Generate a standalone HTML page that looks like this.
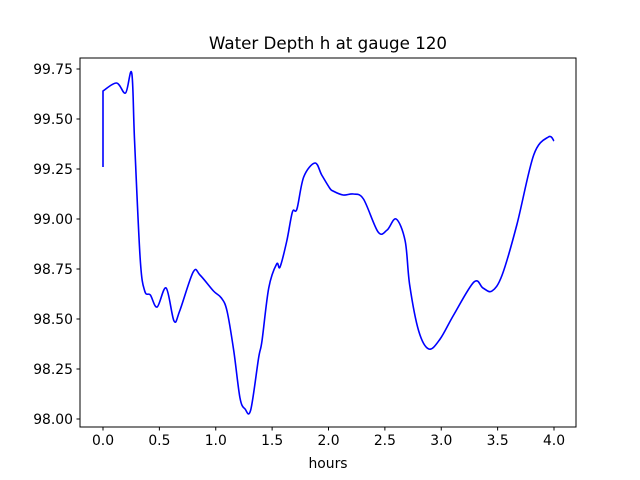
<!DOCTYPE html>
<html><head><meta charset="utf-8"><style>
body{margin:0;background:#fff;}
svg{display:block;font-family:"DejaVu Sans","Liberation Sans",sans-serif;}
</style></head><body>
<svg id="chart" width="640" height="480">
<rect width="640" height="480" fill="#fff"/>
<text x="328" y="49" font-size="16.7" text-anchor="middle">Water Depth h at gauge 120</text>
<g id="xt"></g>
<g id="yt"></g>
<path id="line" fill="none" stroke="#0000ff" stroke-width="1.6" stroke-linejoin="round"/>
<rect x="80" y="58" width="496" height="369" fill="none" stroke="#000" stroke-width="1"/>
<text x="328" y="468" font-size="13.9" text-anchor="middle">hours</text>
</svg>
<script>
const hours=[0,0,0.12,0.20,0.255,0.28,0.33,0.37,0.42,0.48,0.56,0.63,0.68,0.80,0.86,0.98,1.05,1.10,1.16,1.215,1.26,1.31,1.38,1.41,1.47,1.54,1.57,1.63,1.68,1.72,1.78,1.88,1.94,2.01,2.04,2.13,2.22,2.31,2.44,2.52,2.60,2.68,2.72,2.80,2.89,2.99,3.11,3.29,3.37,3.45,3.54,3.67,3.82,3.95,4.0];
const depth=[99.26,99.64,99.68,99.63,99.73,99.39,98.80,98.64,98.62,98.56,98.655,98.49,98.54,98.735,98.72,98.64,98.605,98.54,98.34,98.105,98.05,98.045,98.305,98.39,98.655,98.775,98.76,98.89,99.035,99.05,99.21,99.28,99.22,99.155,99.14,99.12,99.125,99.10,98.935,98.945,99.0,98.89,98.67,98.44,98.35,98.40,98.52,98.685,98.655,98.64,98.72,98.97,99.32,99.41,99.39];
const xTicks=[0,0.5,1,1.5,2,2.5,3,3.5,4];
const xTickLabels=["0.0","0.5","1.0","1.5","2.0","2.5","3.0","3.5","4.0"];
const yTicks=[98,98.25,98.5,98.75,99,99.25,99.5,99.75];
const yTickLabels=["98.00","98.25","98.50","98.75","99.00","99.25","99.50","99.75"];
const NS="http://www.w3.org/2000/svg";
function X(h){return 103+h*112.75;}
function Y(v){return 419-(v-98)*200;}
const xt=document.getElementById('xt'),yt=document.getElementById('yt');
xTicks.forEach((t,i)=>{
 const l=document.createElementNS(NS,'line');
 
 
 l.setAttribute('x1',X(t));l.setAttribute('x2',X(t));l.setAttribute('y1',427);l.setAttribute('y2',430.5);l.setAttribute('stroke','#000');
 xt.appendChild(l);
 const s=document.createElementNS(NS,'text');
 
 
 s.setAttribute('x',X(t));s.setAttribute('y',445);s.setAttribute('font-size','13.9');s.setAttribute('text-anchor','middle');
 s.textContent=xTickLabels[i];xt.appendChild(s);
});
yTicks.forEach((t,i)=>{
 const l=document.createElementNS(NS,'line');
 
 
 l.setAttribute('x1',76.5);l.setAttribute('x2',80);l.setAttribute('y1',Y(t));l.setAttribute('y2',Y(t));l.setAttribute('stroke','#000');
 yt.appendChild(l);
 const s=document.createElementNS(NS,'text');
 
 
 s.setAttribute('x',73);s.setAttribute('y',Y(t)+5);s.setAttribute('font-size','13.9');s.setAttribute('text-anchor','end');
 s.textContent=yTickLabels[i];yt.appendChild(s);
});
const P=hours.map((h,i)=>[X(h),Y(depth[i])]);
let d='M'+P[0][0]+','+P[0][1]+' L'+P[1][0]+','+P[1][1];
for(let i=1;i<P.length-1;i++){
 const p0=P[Math.max(i-1,1)],p1=P[i],p2=P[i+1],p3=P[Math.min(i+2,P.length-1)];
 const c1=[p1[0]+(p2[0]-p0[0])/6,p1[1]+(p2[1]-p0[1])/6];
 const c2=[p2[0]-(p3[0]-p1[0])/6,p2[1]-(p3[1]-p1[1])/6];
 d+=' C'+c1[0]+','+c1[1]+' '+c2[0]+','+c2[1]+' '+p2[0]+','+p2[1];
}
document.getElementById('line').setAttribute('d',d);
</script>
</body></html>
